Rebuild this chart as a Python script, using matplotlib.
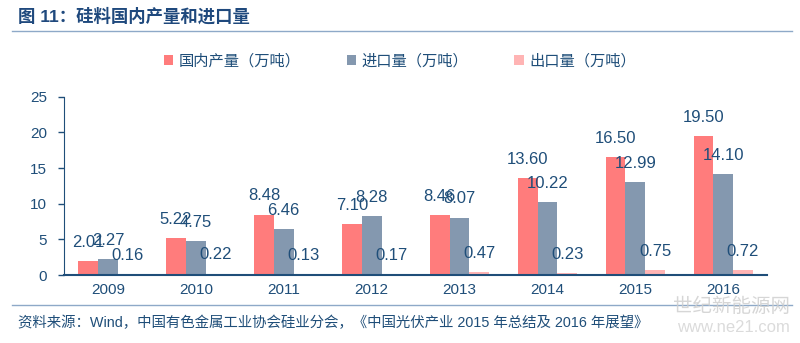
import numpy as np
import matplotlib
matplotlib.use("Agg")
import matplotlib.pyplot as plt
from matplotlib.lines import Line2D

plt.rcParams['font.family'] = ['Liberation Sans', 'Noto Sans CJK SC', 'DejaVu Sans']

# data
years = ['2009', '2010', '2011', '2012', '2013', '2014', '2015', '2016']
domestic = [2.01, 5.22, 8.48, 7.10, 8.46, 13.60, 16.50, 19.50]
imports = [2.27, 4.75, 6.46, 8.28, 8.07, 10.22, 12.99, 14.10]
exports = [0.16, 0.22, 0.13, 0.17, 0.47, 0.23, 0.75, 0.72]
series_names = ['国内产量（万吨）', '进口量（万吨）', '出口量（万吨）']
colors = ['#FF7C7C', '#8498AF', '#FFB4B4']

text_blue = '#1F4E79'

fig = plt.figure(figsize=(8, 3.43), dpi=100)

# title and rules
fig.text(0.022, 0.955, '图 11：硅料国内产量和进口量', fontsize=12.5, fontweight='bold',
         color='#1F497D', va='center', ha='left')
fig.add_artist(Line2D([0.015, 0.99], [0.91, 0.91], color='#8EA9C8', lw=1))
fig.add_artist(Line2D([0.015, 0.99], [0.112, 0.112], color='#8EA9C8', lw=1))
fig.text(0.022, 0.06, '资料来源：Wind，中国有色金属工业协会硅业分会，《中国光伏产业 2015 年总结及 2016 年展望》',
         fontsize=10.4, color=text_blue, va='center', ha='left')
# watermark
fig.text(0.988, 0.105, '世纪新能源网', fontsize=14, color='#CFCFCF',
         va='center', ha='right', alpha=0.85)
fig.text(0.988, 0.045, 'www.ne21.com', fontsize=12, color='#D5D5D5',
         va='center', ha='right', alpha=0.85)

ax = fig.add_axes([0.08, 0.198, 0.879, 0.52])
x = np.arange(len(years))
w = 0.225
for i, (vals, name, c) in enumerate(zip([domestic, imports, exports], series_names, colors)):
    pos = x + (i - 1) * w
    ax.bar(pos, vals, w, color=c, label=name)
    for p, v in zip(pos, vals):
        ax.annotate(f'{v:.2f}', (p, v), xytext=(0, 8), textcoords='offset points',
                    ha='center', va='bottom', fontsize=12, color=text_blue)

ax.set_xlim(-0.5, 7.5)
ax.set_ylim(0, 25)
ax.set_yticks([0, 5, 10, 15, 20, 25])
ax.set_xticks(x)
ax.set_xticklabels(years)
ax.tick_params(axis='x', length=0, pad=6, labelsize=11, colors=text_blue)
ax.tick_params(axis='y', length=4, width=1, pad=8, labelsize=11, colors=text_blue)
for s in ['top', 'right']:
    ax.spines[s].set_visible(False)
ax.spines['left'].set_color(text_blue)
ax.spines['bottom'].set_color(text_blue)
ax.spines['bottom'].set_linewidth(1.5)

leg = fig.legend(loc='center', bbox_to_anchor=(0.5, 0.822), ncol=3, frameon=False,
                 fontsize=11, handlelength=0.6, handleheight=0.6, columnspacing=3,
                 handletextpad=0.4)
for t in leg.get_texts():
    t.set_color(text_blue)

fig.savefig('out.png', dpi=100)
